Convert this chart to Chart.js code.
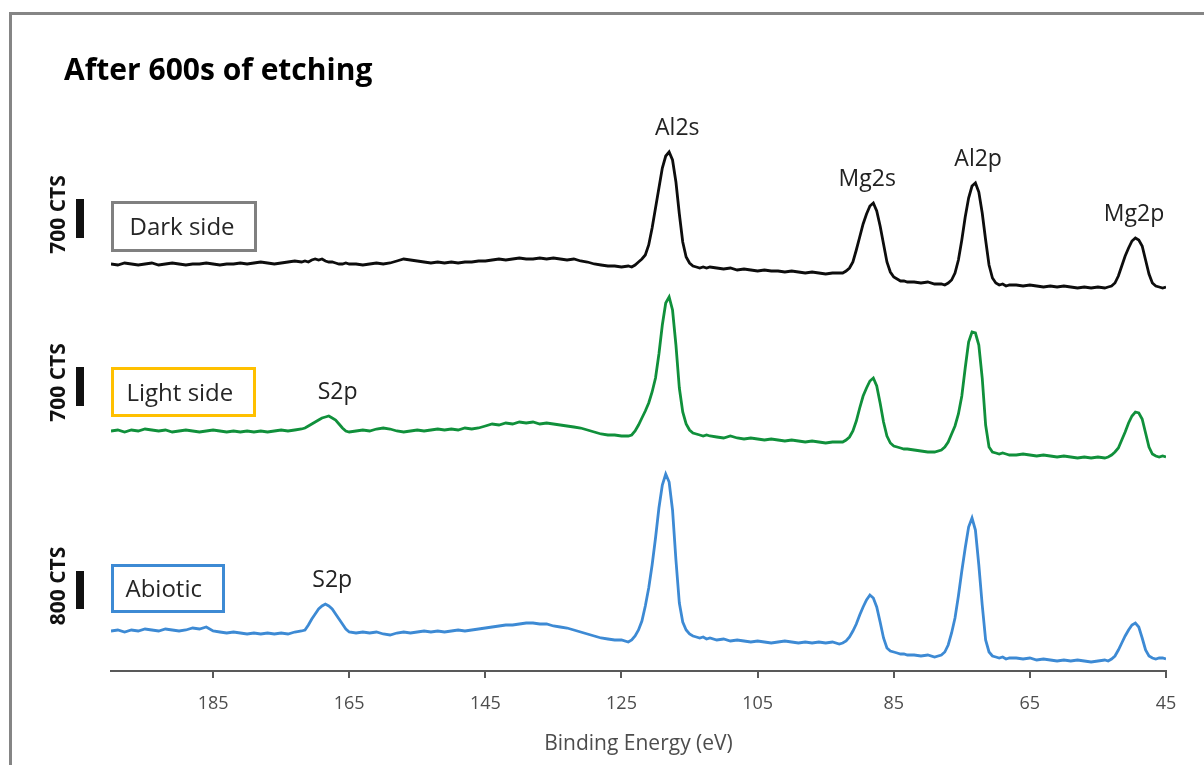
<!DOCTYPE html>
<html>
<head>
<meta charset="utf-8">
<script src="https://cdn.jsdelivr.net/npm/chart.js@4.4.1/dist/chart.umd.min.js"></script>
<style>
html, body { margin: 0; padding: 0; background: #fff; overflow: hidden; }
#frame { position: absolute; left: 9px; top: 12px; width: 1300px; height: 900px; border: 3px solid #858585; }
#wrap { position: absolute; left: 0; top: 0; width: 1204px; height: 765px; }
</style>
</head>
<body>
<div id="frame"></div>
<div id="wrap"><canvas id="xps" width="1204" height="765"></canvas></div>
<script>
// binding energy (eV), shared by the three spectra
let energies = [
    200, 199, 198, 197, 196, 195, 194, 193, 192, 191, 190, 189, 188, 187, 186, 185, 184, 183, 182, 181, 180, 179, 178, 177, 176, 175, 174, 173,
    172, 171.5, 171, 170.5, 170, 169.5, 169, 168.5, 168, 167.5, 167, 166.5, 166, 165.5, 165,
    164, 163, 162, 161, 160, 159, 158, 157, 156, 155, 154, 153, 152, 151, 150, 149, 148, 147, 146, 145, 144, 143, 142, 141,
    140, 139, 138, 137, 136, 135, 134, 133, 132, 131, 130, 129, 128, 127, 126, 125,
    124, 123.5, 123, 122.5, 122, 121.5, 121, 120.5, 120, 119.5, 119, 118.5, 118, 117.5, 117, 116.5, 116, 115.5, 115, 114.5, 114, 113.5, 113, 112.5, 112,
    111, 110, 109, 108, 107, 106, 105, 104, 103, 102, 101, 100, 99, 98, 97, 96, 95, 94,
    93, 92.5, 92, 91.5, 91, 90.5, 90, 89.5, 89, 88.5, 88, 87.5, 87, 86.5, 86, 85.5, 85, 84.5, 84, 83.5, 83,
    82, 81, 80, 79,
    78, 77.5, 77, 76.5, 76, 75.5, 75, 74.5, 74, 73.5, 73, 72.5, 72, 71.5, 71, 70.5, 70, 69.5, 69, 68.5, 68,
    67, 66, 65, 64, 63, 62, 61, 60, 59, 58, 57, 56, 55,
    54, 53.5, 53, 52.5, 52, 51.5, 51, 50.5, 50, 49.5, 49, 48.5, 48, 47.5, 47, 46.5, 46, 45.5, 45
];

// offset intensity (a.u.), one value per energy
let darkSide = [
    407, 406, 408, 407, 406, 407, 408, 406, 407, 408, 407, 406, 407, 407, 408, 407, 406, 407, 407, 408, 407, 408, 409, 408, 407, 408, 409, 410,
    409, 410, 409, 411, 412, 411, 412, 410, 409, 409, 408, 407, 407, 408, 407,
    407, 406, 407, 408, 407, 408, 410, 412, 411, 410, 409, 408, 409, 408, 409, 408, 409, 409, 410, 410, 411, 412, 411, 412,
    413, 412, 412, 413, 412, 413, 412, 411, 412, 410, 409, 407, 406, 405, 405, 404,
    405, 404, 406, 409, 412, 416, 426, 443, 463, 483, 503, 515, 519, 511, 489, 457, 429, 414, 408, 405, 404, 403, 404, 403, 404,
    403, 402, 403, 401, 402, 401, 400, 401, 400, 400, 399, 400, 399, 398, 399, 398, 397, 398,
    398, 398, 400, 403, 409, 421, 434, 447, 457, 465, 468, 460, 445, 427, 409, 399, 394, 392, 390, 390, 389,
    389, 388, 389, 387,
    387, 386, 388, 391, 398, 411, 431, 454, 473, 485, 488, 479, 458, 431, 406, 393, 388, 386, 387, 385, 386,
    386, 385, 386, 385, 384, 385, 384, 385, 384, 383, 384, 383, 384,
    383, 384, 385, 388, 395, 405, 415, 423, 430, 433, 431, 425, 411, 397, 388, 385, 384, 383, 384
];

let lightSide = [
    240, 241, 239, 241, 240, 242, 241, 240, 241, 239, 240, 241, 240, 239, 240, 241, 240, 239, 240, 239, 240, 239, 240, 239, 240, 241, 240, 241,
    242, 243, 245, 247, 249, 251, 253, 254, 255, 253, 251, 247, 243, 240, 239,
    240, 241, 240, 242, 243, 242, 240, 239, 240, 241, 240, 241, 242, 241, 242, 241, 243, 242, 243, 245, 247, 246, 248, 247,
    249, 248, 249, 247, 248, 247, 246, 245, 244, 243, 241, 239, 237, 236, 236, 235,
    235, 236, 240, 246, 253, 260, 268, 279, 293, 317, 346, 368, 374, 361, 326, 283, 259, 247, 241, 238, 237, 236, 235, 236, 235,
    234, 233, 235, 233, 232, 233, 232, 231, 232, 231, 230, 231, 230, 229, 230, 229, 228, 229,
    229, 229, 231, 234, 240, 250, 263, 275, 283, 290, 293, 285, 268, 249, 235, 228, 225, 224, 223, 222, 222,
    221, 220, 219, 219,
    221, 224, 229, 237, 245, 257, 275, 303, 329, 339, 338, 326, 293, 246, 224, 219, 218, 217, 218, 217, 216,
    216, 217, 216, 215, 216, 215, 214, 215, 214, 213, 214, 213, 214,
    213, 214, 216, 219, 223, 231, 239, 248, 255, 259, 258, 252, 238, 224, 217, 215, 214, 215, 214
];

let abiotic = [
    40, 41, 39, 41, 40, 42, 41, 40, 42, 41, 40, 41, 43, 42, 44, 40, 39, 38, 39, 38, 37, 38, 37, 38, 37, 38, 37, 39,
    40, 41, 46, 52, 57, 62, 65, 67, 65, 62, 57, 52, 47, 42, 39,
    38, 39, 38, 39, 37, 36, 38, 39, 38, 39, 40, 39, 40, 39, 40, 41, 40, 41, 42, 43, 44, 45, 46, 46,
    47, 48, 48, 47, 47, 45, 44, 43, 41, 39, 37, 35, 33, 32, 31, 31,
    29, 31, 35, 41, 50, 65, 83, 106, 133, 163, 186, 197, 189, 161, 111, 68, 49, 41, 37, 35, 34, 33, 34, 32, 33,
    31, 32, 30, 31, 30, 29, 30, 29, 28, 29, 30, 29, 28, 29, 28, 29, 28, 29,
    27, 28, 30, 34, 40, 47, 56, 64, 71, 76, 73, 64, 49, 33, 23, 20, 19, 18, 17, 17, 16,
    16, 15, 16, 14,
    16, 19, 26, 38, 53, 75, 100, 123, 144, 153, 141, 106, 66, 31, 19, 15, 14, 13, 14, 12, 13,
    13, 12, 13, 11, 12, 11, 10, 11, 10, 11, 10, 9, 10,
    11, 10, 12, 15, 21, 28, 35, 41, 46, 48, 44, 33, 21, 15, 13, 12, 13, 13, 12
];

let seriesNames = ["Dark side", "Light side", "Abiotic"];
let scaleBarLabels = ["700 CTS", "700 CTS", "800 CTS"];
let tickValues = [185, 165, 145, 125, 105, 85, 65, 45];

let peakNames = ["Al2s", "Mg2s", "Al2p", "Mg2p", "S2p", "S2p"];
let peakSeries = [0, 0, 0, 0, 1, 2];
let peakEnergies = [116.8, 88.9, 72.6, 49.7, 166.7, 167.5];

let chartTitle = "After 600s of etching";
let axisTitle = "Binding Energy (eV)";

Chart.defaults.font.family = '"Open Sans", sans-serif';

let allSeries = [darkSide, lightSide, abiotic];
let lineColors = ["#0d0d0d", "#10903b", "#3d8ad4"];
let boxColors = ["#808080", "#ffc000", "#3d8ad4"];

function toPoints(values) {
    let pts = [];
    for (let i = 0; i < energies.length; i++) {
        pts.push({ x: energies[i], y: values[i] });
    }
    return pts;
}

// legend boxes, scale bars and peak names drawn on top of the plot
const overlay = {
    id: "overlay",
    afterDraw(chart, args, opts) {
        const ctx = chart.ctx;
        const xs = chart.scales.x;
        const ys = chart.scales.y;
        ctx.save();

        ctx.fillStyle = "#000";
        ctx.font = 'bold 30px "Open Sans"';
        ctx.textAlign = "left";
        ctx.textBaseline = "alphabetic";
        ctx.fillText(chartTitle, opts.titleX, opts.titleY);

        for (let i = 0; i < seriesNames.length; i++) {
            let b = opts.boxes[i];
            ctx.strokeStyle = boxColors[i];
            ctx.lineWidth = 3;
            ctx.strokeRect(b.x, b.y, b.w, b.h);
            ctx.fillStyle = "#262626";
            ctx.font = '24px "Open Sans"';
            ctx.textAlign = "left";
            ctx.fillText(seriesNames[i], b.x + b.pad, b.y + b.h / 2 + 8.5);

            let s = opts.bars[i];
            let top = ys.getPixelForValue(s.base + s.len);
            let bottom = ys.getPixelForValue(s.base);
            ctx.fillStyle = "#111";
            ctx.fillRect(opts.barX, top, 8, bottom - top);

            ctx.save();
            ctx.translate(opts.barLabelX, (top + bottom) / 2 - 4);
            ctx.rotate(-Math.PI / 2);
            ctx.font = 'bold 21px "Open Sans"';
            ctx.textAlign = "center";
            ctx.textBaseline = "middle";
            ctx.fillText(scaleBarLabels[i], 0, 0);
            ctx.restore();
        }

        ctx.fillStyle = "#222";
        ctx.font = '23px "Open Sans"';
        ctx.textAlign = "center";
        ctx.textBaseline = "alphabetic";
        for (let i = 0; i < peakNames.length; i++) {
            let values = allSeries[peakSeries[i]];
            let top = -Infinity;
            for (let j = 0; j < energies.length; j++) {
                if (Math.abs(energies[j] - peakEnergies[i]) <= 2 && values[j] > top) top = values[j];
            }
            ctx.fillText(peakNames[i], xs.getPixelForValue(peakEnergies[i]), ys.getPixelForValue(top) - opts.labelGap);
        }
        ctx.restore();
    }
};

let datasets = [];
for (let i = 0; i < allSeries.length; i++) {
    datasets.push({
        label: seriesNames[i],
        data: toPoints(allSeries[i]),
        borderColor: lineColors[i],
        borderWidth: 2.8,
        pointRadius: 0,
        tension: 0,
        fill: false
    });
}

new Chart(document.getElementById("xps"), {
    type: "line",
    data: { datasets: datasets },
    plugins: [overlay],
    options: {
        responsive: false,
        animation: false,
        layout: { padding: { left: 111, right: 38, top: 100, bottom: 8 } },
        plugins: {
            legend: { display: false },
            tooltip: { enabled: false },
            overlay: {
                titleX: 64,
                titleY: 80,
                boxes: [
                    { x: 112.5, y: 202.5, w: 143, h: 48, pad: 17 },
                    { x: 112.5, y: 368.5, w: 142, h: 47, pad: 14 },
                    { x: 112.5, y: 565.5, w: 111, h: 46, pad: 13 }
                ],
                bars: [
                    { base: 433, len: 39 },
                    { base: 265, len: 39 },
                    { base: 62, len: 38 }
                ],
                barX: 76,
                barLabelX: 59,
                labelGap: 17
            }
        },
        scales: {
            x: {
                type: "linear",
                reverse: true,
                min: 45,
                max: 200,
                afterBuildTicks: function(scale) {
                    scale.ticks = tickValues.map(v => ({ value: v }));
                },
                afterFit: function(scale) {
                    scale.height = 86;
                    scale.paddingLeft = 0;
                    scale.paddingRight = 0;
                },
                grid: { drawOnChartArea: false, drawTicks: true, tickLength: 7, color: "#595959", lineWidth: 2 },
                border: { display: true, color: "#595959", width: 2 },
                ticks: { font: { size: 18 }, color: "#4d4d4d", padding: 15, maxRotation: 0, autoSkip: false },
                title: { display: true, text: axisTitle, font: { size: 21 }, color: "#4d4d4d", padding: 0 }
            },
            y: { display: false, min: 0, max: 571 }
        }
    }
});
</script>
</body>
</html>
